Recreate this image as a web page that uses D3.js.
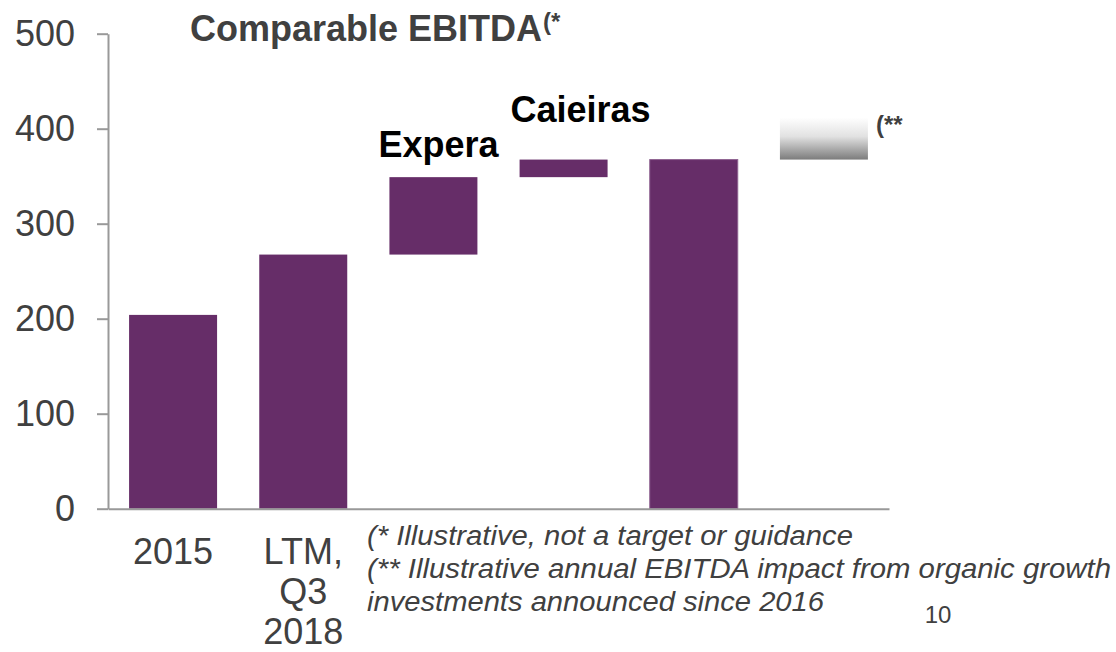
<!DOCTYPE html>
<meta charset="utf-8">
<script src="https://d3js.org/d3.v7.min.js"></script>
<style>
  body { margin: 0; background: #fff; }
  text { font-family: "Liberation Sans", Arial, sans-serif; }
</style>
<div id="my_dataviz"></div>
<script>
// bridge steps: where each bar starts and ends
var categories = ["2015", "LTM, Q3 2018", "Expera", "Caieiras", "Total", "Organic"];
var baseValues = [0, 0, 267.5, 349, 0, 367.5];
var topValues  = [204, 267.5, 349, 367.5, 367.5, 412];
var axisLabels = [["2015"], ["LTM,", "Q3", "2018"], [], [], [], []];
var stepLabels = ["", "", "Expera", "Caieiras", "", ""];
var yTicks = [0, 100, 200, 300, 400, 500];

var data = categories.map(function (c, i) {
  return { group: c, base: baseValues[i], top: topValues[i], label: stepLabels[i], axis: axisLabels[i] };
});

var width = 1116, height = 652;
var svg = d3.select("#my_dataviz").append("svg")
  .attr("width", width).attr("height", height);

var x = d3.scaleBand()
  .domain(categories)
  .range([108, 889])
  .paddingInner(0.324)
  .paddingOuter(0.162);

var y = d3.scaleLinear().domain([0, 500]).range([508.7, 33.7]);

// gradient for the organic growth bar
var grad = svg.append("defs").append("linearGradient")
  .attr("id", "organic").attr("x1", 0).attr("y1", 0).attr("x2", 0).attr("y2", 1);
grad.append("stop").attr("offset", "0%").attr("stop-color", "#ffffff");
grad.append("stop").attr("offset", "45%").attr("stop-color", "#e2e2e2");
grad.append("stop").attr("offset", "100%").attr("stop-color", "#7c7c7c");

// bars
svg.selectAll("rect.bar")
  .data(data)
  .enter().append("rect")
  .attr("class", "bar")
  .attr("x", function (d) { return x(d.group); })
  .attr("y", function (d) { return y(d.top); })
  .attr("width", x.bandwidth())
  .attr("height", function (d) { return y(d.base) - y(d.top); })
  .attr("fill", function (d) { return d.group == "Organic" ? "url(#organic)" : "#662d68"; })
  .attr("stroke", function (d) { return d.group == "Total" ? "#8d6190" : "none"; })
  .attr("stroke-width", 1);

// y axis
var yAxis = svg.append("g")
  .attr("transform", "translate(108,0)")
  .call(d3.axisLeft(y).tickValues(yTicks).tickSizeInner(11).tickSizeOuter(0).tickPadding(22));
yAxis.select(".domain").attr("stroke", "#999").attr("stroke-width", 2);
yAxis.selectAll(".tick line").attr("stroke", "#999").attr("stroke-width", 2);
yAxis.selectAll(".tick text")
  .attr("font-size", 36).attr("fill", "#404040")
  .style("font-family", "'Liberation Sans', Arial, sans-serif");

// x axis (baseline only)
var xAxis = svg.append("g")
  .attr("transform", "translate(0," + y(0) + ")")
  .call(d3.axisBottom(x).tickSize(0).tickFormat(""));
xAxis.select(".domain").attr("stroke", "#999").attr("stroke-width", 2);

// category labels under the axis
data.forEach(function (d) {
  d.axis.forEach(function (line, j) {
    svg.append("text")
      .attr("x", x(d.group) + x.bandwidth() / 2)
      .attr("y", 564 + j * 40)
      .attr("text-anchor", "middle")
      .attr("font-size", 36)
      .attr("fill", "#404040")
      .text(line);
  });
});

// step labels above the floating bars
svg.selectAll("text.step")
  .data(data.filter(function (d) { return d.label; }))
  .enter().append("text")
  .attr("class", "step")
  .attr("x", function (d) { return x(d.group) + x.bandwidth() / 2 + (d.label == "Caieiras" ? 17 : 5); })
  .attr("y", function (d) { return y(d.top) - (d.label == "Caieiras" ? 38 : 20); })
  .attr("text-anchor", "middle")
  .attr("font-size", 36)
  .attr("font-weight", "bold")
  .attr("fill", "#000")
  .text(function (d) { return d.label; });

// title
var title = svg.append("text")
  .attr("x", 190).attr("y", 41)
  .attr("font-size", 36).attr("font-weight", "bold").attr("fill", "#404040");
title.append("tspan").text("Comparable EBITDA");
title.append("tspan").attr("x", 543).attr("font-size", 24).attr("dy", -11).text("(*");

svg.append("text")
  .attr("x", x("Organic") + x.bandwidth() + 8).attr("y", 133)
  .attr("font-size", 24).attr("font-weight", "bold").attr("fill", "#404040")
  .text("(**");

// footnotes
var notes = [
  "(* Illustrative, not a target or guidance",
  "(** Illustrative annual EBITDA impact from organic growth",
  "investments announced since 2016"
];
var noteWidths = [486, 744, 457];
notes.forEach(function (n, i) {
  svg.append("text")
    .attr("x", 367).attr("y", 545 + i * 33)
    .attr("font-size", 27).attr("font-style", "italic").attr("fill", "#404040")
    .attr("textLength", noteWidths[i]).attr("lengthAdjust", "spacingAndGlyphs")
    .text(n);
});

svg.append("text")
  .attr("x", 938).attr("y", 623)
  .attr("text-anchor", "middle")
  .attr("font-size", 24).attr("fill", "#404040")
  .text("10");
</script>
